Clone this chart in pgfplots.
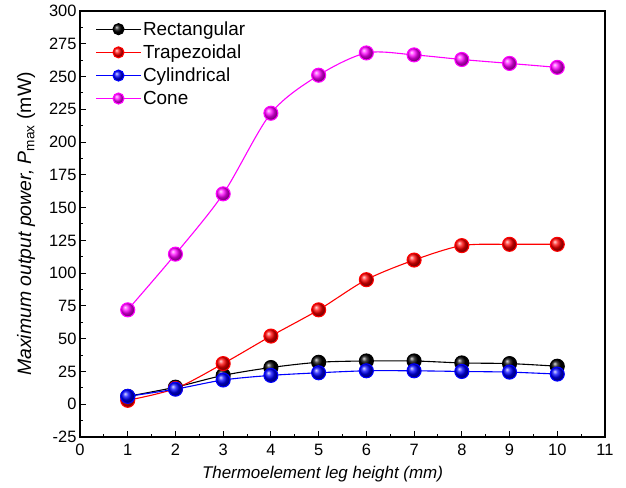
\documentclass[border=0pt]{standalone}
\usepackage{pgfplots}
\pgfplotsset{compat=1.18}
\usepackage{fontspec}
\setmainfont{Liberation Sans}
\usetikzlibrary{plotmarks}
\definecolor{cone}{RGB}{255,0,255}
\definecolor{cyl}{RGB}{0,0,255}
\definecolor{trap}{RGB}{255,0,0}

\begin{document}
\begin{tikzpicture}
\begin{axis}[
    scale only axis,
    width=525bp, height=426bp,
    xmin=0, xmax=11, ymin=-25, ymax=300,
    xtick={0,1,...,11}, ytick={-25,0,25,...,300},
    minor x tick num=1, minor y tick num=1,
    tick align=inside, xtick pos=bottom, ytick pos=left,
    major tick length=6bp, minor tick length=3.5bp,
    axis line style={line width=1.2bp},
    every tick/.style={line width=1bp, black},
    ticklabel style={font=\fontsize{16.5}{18}\selectfont},
    xticklabel style={yshift=-4bp},
    /pgf/number format/assume math mode=true,
    xlabel={\itshape Thermoelement\ leg height (mm)},
    ylabel={\itshape Maximum output power, P\textsubscript{\upshape max} \upshape(mW)},
    xlabel style={font=\fontsize{17}{18}\selectfont, yshift=-3bp, xshift=-20bp},
    ylabel style={font=\fontsize{19.5}{20}\selectfont, yshift=7bp},
    legend style={draw=none, fill=none, at={(0.03,0.985)}, anchor=north west,
        font=\fontsize{19}{20}\selectfont, row sep=4bp,
        inner xsep=0pt},
    legend cell align=left,
    legend image code/.code={
        \draw[mark repeat=2, mark phase=2, mark size=5.5bp]
        plot coordinates {(0bp,0bp) (22bp,0bp) (44bp,0bp)};},
    every axis plot/.append style={line width=1.1bp, smooth, tension=0.5, mark=ball, mark size=7bp},
]
\addplot[black, mark options={ball color=black}] coordinates
 {(1,6) (2,13) (3,22) (4,28) (5,32) (6,33) (7,33) (8,31.5) (9,31) (10,29)};
\addlegendentry{Rectangular}
\addplot[trap, mark options={ball color=trap}] coordinates
 {(1,3) (2,12) (3,31) (4,52) (5,72) (6,95) (7,110) (8,121) (9,122) (10,122)};
\addlegendentry{Trapezoidal}
\addplot[cyl, mark options={ball color=cyl}] coordinates
 {(1,6) (2,11.5) (3,18.5) (4,22) (5,24) (6,25.5) (7,25.5) (8,25) (9,24.5) (10,23)};
\addlegendentry{Cylindrical}
\addplot[cone, mark options={ball color=cone}] coordinates
 {(1,72) (2,114.5) (3,160.5) (4,222) (5,251) (6,268) (7,266.5) (8,263) (9,260) (10,257)};
\addlegendentry{Cone}
\end{axis}
\pgfresetboundingbox
\path ([xshift=-80bp,yshift=-51bp]current axis.south west) rectangle ([xshift=21bp,yshift=11bp]current axis.north east);
\end{tikzpicture}
\end{document}
